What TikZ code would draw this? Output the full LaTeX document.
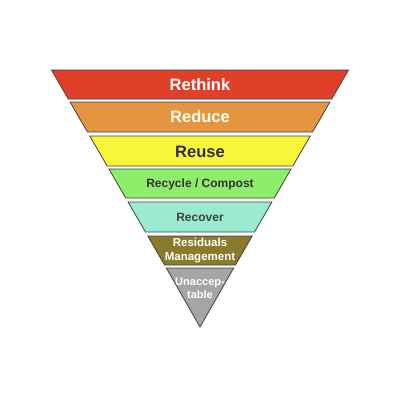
\documentclass[tikz,border=0pt]{standalone}
\usepackage{fontspec}
\setmainfont{Liberation Sans}
\definecolor{cRed}{HTML}{E04028}
\definecolor{cOrange}{HTML}{E5953F}
\definecolor{cYellow}{HTML}{F8F63A}
\definecolor{cGreen}{HTML}{8DEE6B}
\definecolor{cCyan}{HTML}{9AEBD0}
\definecolor{cOlive}{HTML}{8C7A2C}
\definecolor{cGray}{HTML}{A5A5A5}
\definecolor{tNavy}{HTML}{2E2E4C}
\definecolor{tDark}{HTML}{3A303A}
\tikzset{
  band/.style={draw=black!75, line width=0.8pt, line join=miter},
  lbl/.style={font=\bfseries, align=center, inner sep=0pt},
}
\begin{document}
\begin{tikzpicture}[x=1pt,y=-1pt]
\useasboundingbox (0,0) rectangle (400,400);
% hw(y) = 148.5 - 0.58*(y-70)
\newcommand{\bandshape}[3]{% color, ytop, ybot
  \pgfmathsetmacro{\hwt}{148.5-0.58*(#2-70)}
  \pgfmathsetmacro{\hwb}{148.5-0.58*(#3-70)}
  \filldraw[band, fill=#1] (200-\hwt,#2) -- (200+\hwt,#2) -- (200+\hwb,#3) -- (200-\hwb,#3) -- cycle;
}
\bandshape{cRed}{70}{99}
\bandshape{cOrange}{102}{132}
\bandshape{cYellow}{136}{166}
\bandshape{cGreen}{169}{198}
\bandshape{cCyan}{202}{232}
\bandshape{cOlive}{236}{265}
\pgfmathsetmacro{\hwg}{148.5-0.58*(268-70)}
\filldraw[band, fill=cGray] (200-\hwg,268) -- (200+\hwg,268) -- (200,327) -- cycle;

\node[lbl, text=white, font=\bfseries\fontsize{16.5}{18}\selectfont] (rethink) at (200,84.5) {Rethink};
\node[lbl, text=white!95!yellow, font=\bfseries\fontsize{16.5}{18}\selectfont] (reduce) at (200,117) {Reduce};
\node[lbl, text=tNavy, font=\bfseries\fontsize{16.5}{18}\selectfont] (reuse) at (200,151.5) {Reuse};
\node[lbl, text=tDark, font=\bfseries\fontsize{12}{14}\selectfont] (recycle) at (200,184) {Recycle / Compost};
\node[lbl, text=black!75, font=\bfseries\fontsize{12}{14}\selectfont] (recover) at (200,217.5) {Recover};
\node[lbl, text=white, font=\bfseries\fontsize{11.5}{13.5}\selectfont] (resid) at (200,250.5) {Residuals\\Management};
\node[lbl, text=white, font=\bfseries\fontsize{11}{13}\selectfont] (unacc) at (200,288) {Unaccep-\\table};
\end{tikzpicture}
\end{document}
